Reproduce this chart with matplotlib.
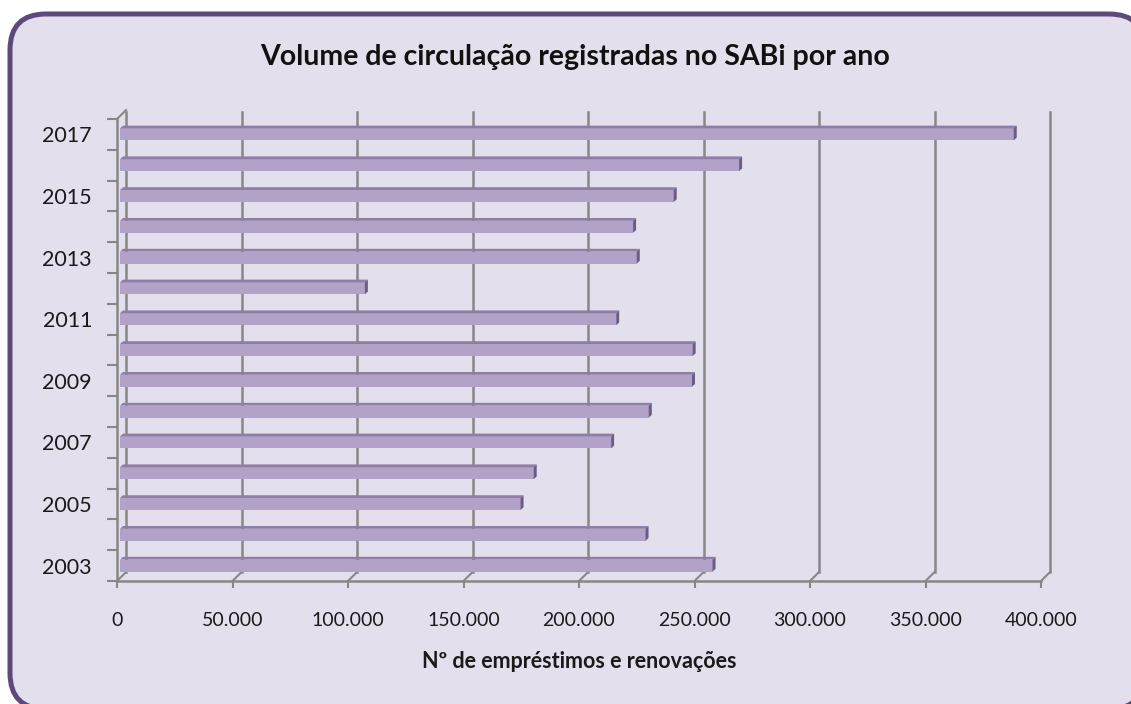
import matplotlib.pyplot as plt
from matplotlib.patches import FancyBboxPatch, Polygon
from matplotlib.ticker import FuncFormatter

plt.rcParams['font.family'] = ['Lato', 'DejaVu Sans']

# data
years = [2003, 2004, 2005, 2006, 2007, 2008, 2009, 2010,
         2011, 2012, 2013, 2014, 2015, 2016, 2017]
values = [256500, 227500, 173400, 179100, 212600, 228900, 247600, 247900,
          214800, 106000, 223700, 222100, 239700, 268000, 386900]
xticks = [0, 50000, 100000, 150000, 200000, 250000, 300000, 350000, 400000]

title = 'Volume de circulação registradas no SABi por ano'
xlabel = 'Nº de empréstimos e renovações'

W, H = 1131, 704
fig = plt.figure(figsize=(W / 100, H / 100), dpi=100)
fig.patch.set_facecolor('white')

# background panel with rounded purple border (runs past right/bottom edge)
bg = fig.add_axes([0, 0, 1, 1])
bg.set_xlim(0, W)
bg.set_ylim(0, H)
bg.axis('off')
bg.add_patch(FancyBboxPatch((10, -5), 1135, 704 - 14 + 5,
                            boxstyle='round,pad=0,rounding_size=36',
                            facecolor='#E4DFEC', edgecolor='#5F497A', lw=3.6,
                            clip_on=True))

ax = fig.add_axes([117 / W, (H - 581) / H, 924 / W, 462 / H])
ax.patch.set_alpha(0)
ax.set_xlim(0, 400000)
ax.set_ylim(-0.5, len(years) - 0.5)

grid_c = '#878787'
# back wall gridlines (oblique 3d look)
gdx, gdy = 3900, 0.29
ytop = len(years) - 0.5
for v in xticks:
    ax.plot([v + gdx, v + gdx], [-0.5 + gdy, ytop + 0.23], color=grid_c, lw=1.8,
            clip_on=False, zorder=1)
    ax.plot([v, v + gdx], [-0.5, -0.5 + gdy], color=grid_c, lw=1.5,
            clip_on=False, zorder=1)
ax.plot([0, gdx], [ytop, ytop + gdy], color=grid_c, lw=1.5, clip_on=False, zorder=1)

# bars: front face + top face + end face
pos = list(range(len(years)))
off = 1300
bh = 0.39
ddx, ddy = 1300, 0.09
ax.barh(pos, values, left=off, height=bh, color='#B3A2C7', zorder=3)
for p, v in zip(pos, values):
    top = p + bh / 2
    ax.add_patch(Polygon([(off, top), (off + v, top), (off + v + ddx, top + ddy),
                          (off + ddx, top + ddy)], closed=True,
                         facecolor='#8E7EA5', edgecolor='none', zorder=3))
    ax.add_patch(Polygon([(off + v, p - bh / 2), (off + v + ddx, p - bh / 2 + ddy),
                          (off + v + ddx, top + ddy), (off + v, top)], closed=True,
                         facecolor='#6C5C85', edgecolor='none', zorder=3))

for s in ['top', 'right']:
    ax.spines[s].set_visible(False)
for s in ['left', 'bottom']:
    ax.spines[s].set_color(grid_c)
    ax.spines[s].set_linewidth(1.8)

ax.set_xticks(xticks)
ax.xaxis.set_major_formatter(FuncFormatter(
    lambda x, _: '0' if x == 0 else f'{int(x):,}'.replace(',', '.')))
ax.tick_params(axis='x', length=5, width=1.5, color=grid_c, pad=17,
               labelsize=14, labelcolor='#1a1a1a')

ax.set_yticks(pos[::2])
ax.set_yticklabels([str(y) for y in years[::2]])
ax.set_yticks([p - 0.5 for p in pos] + [ytop], minor=True)
ax.tick_params(axis='y', which='major', length=0, pad=18, labelsize=15.5,
               labelcolor='#1a1a1a')
ax.tick_params(axis='y', which='minor', length=7, width=1.5, color=grid_c)

ax.set_xlabel(xlabel, fontsize=15.5, fontweight='bold', labelpad=16, color='#1a1a1a')

fig.text(575 / W, 1 - 57 / H, title, ha='center', va='center',
         fontsize=20.5, fontweight='bold', color='#111111')

fig.savefig('out.png', dpi=100)
